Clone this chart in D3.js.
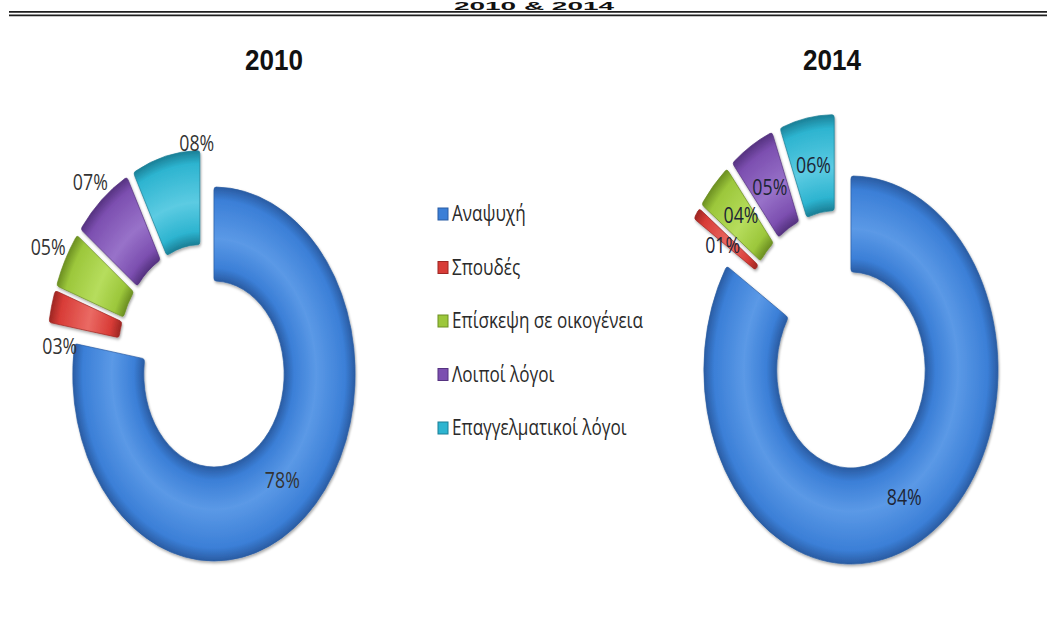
<!DOCTYPE html>
<html><head><meta charset="utf-8">
<script src="https://cdn.jsdelivr.net/npm/d3@7"></script>
<style>
html,body{margin:0;padding:0;background:#fff;}
svg{display:block;}
</style></head>
<body>
<svg id="chart" width="1047" height="623"></svg>
<script>
// ---------- DATA ----------
const categories = ["Αναψυχή", "Σπουδές", "Επίσκεψη σε οικογένεια", "Λοιποί λόγοι", "Επαγγελματικοί λόγοι"];
const years = ["2010", "2014"];
const values2010 = [77.6, 2.8, 4.9, 6.9, 7.8];
const values2014 = [84, 1, 4, 5, 6];
const headerTitle = "2010 & 2014";

// ---------- STYLE / LAYOUT ----------
const colors = ["#3b7fd7", "#d83c37", "#9cc73b", "#7c4fb0", "#2db4d0"];
const edgeColors = ["#2a5ca3", "#9e2723", "#6c8f22", "#553280", "#1b7f96"];
const lightColors = ["#5b99e6", "#ea6a64", "#b6dd5d", "#9872c9", "#5ccbe2"];
const font = "'Open Sans','Noto Sans',sans-serif";
const boldFont = "'Liberation Sans',Arial,sans-serif";

const svg = d3.select("#chart");
const defs = svg.append("defs");

const shadow = defs.append("filter").attr("id", "shadow")
  .attr("x", "-20%").attr("y", "-20%").attr("width", "140%").attr("height", "140%");
shadow.append("feDropShadow").attr("dx", 1.2).attr("dy", 1.8).attr("stdDeviation", 1.6)
  .attr("flood-color", "#000").attr("flood-opacity", 0.35);

// header (title above the double rule) and double rule
svg.append("text").attr("x", 534).attr("y", 9.5).attr("text-anchor", "middle")
  .attr("font-family", boldFont).attr("font-weight", "bold")
  .attr("font-size", 11).attr("fill", "#111")
  .attr("textLength", 160).attr("lengthAdjust", "spacingAndGlyphs")
  .text(headerTitle);
svg.append("line").attr("x1", 9).attr("x2", 1047).attr("y1", 11.9).attr("y2", 11.9)
  .attr("stroke", "#1e1e1e").attr("stroke-width", 1.8);
svg.append("line").attr("x1", 9).attr("x2", 1047).attr("y1", 15.3).attr("y2", 15.3)
  .attr("stroke", "#1e1e1e").attr("stroke-width", 1.8);

const charts = [
  { year: years[0], values: values2010, cx: 203.7, cy: 358, r: 187, inner: 93, sx: 0.755, explode: 21,
    titleX: 274, labelMode: "outside", labelAdjust: { 1: [27, 47], 4: [34, 2] } },
  { year: years[1], values: values2014, cx: 838.9, cy: 341.1, r: 194, inner: 98, sx: 0.758, explode: 33,
    titleX: 832, labelMode: "centroid", labelAdjust: { 1: [-4, 5], 2: [1, -3] } }
];

const pie = d3.pie().sort(null).value(d => d);
const fmt = v => String(Math.round(v)).padStart(2, "0") + "%";

function measure(txt, size, family, weight) {
  const t = svg.append("text").attr("font-family", family).attr("font-size", size)
    .attr("font-weight", weight || "normal").text(txt);
  const w = t.node().getComputedTextLength();
  t.remove();
  return w;
}
const pctSize = 21;
const pctScale = Math.min(1, 35 / measure("08%", pctSize, font));
const titleSize = 29;
const titleScale = Math.min(1, 58 / measure("2010", titleSize, boldFont, "bold"));

charts.forEach((c, ci) => {
  svg.append("text")
    .attr("transform", `translate(${c.titleX},70) scale(${titleScale},1)`)
    .attr("text-anchor", "middle")
    .attr("font-family", boldFont).attr("font-weight", "bold")
    .attr("font-size", titleSize).attr("fill", "#111").text(c.year);

  colors.forEach((col, i) => {
    const g = defs.append("radialGradient").attr("id", `grad${ci}_${i}`)
      .attr("gradientUnits", "userSpaceOnUse").attr("cx", 0).attr("cy", 0).attr("r", c.r);
    const f = c.inner / c.r;
    g.append("stop").attr("offset", f).attr("stop-color", edgeColors[i]);
    g.append("stop").attr("offset", f + 0.07).attr("stop-color", col);
    g.append("stop").attr("offset", f + (1 - f) * 0.45).attr("stop-color", lightColors[i]);
    g.append("stop").attr("offset", 0.93).attr("stop-color", col);
    g.append("stop").attr("offset", 1).attr("stop-color", edgeColors[i]);
  });

  const arcs = pie(c.values);
  const arc = d3.arc().innerRadius(c.inner).outerRadius(c.r).cornerRadius(3);
  const gRing = svg.append("g")
    .attr("transform", `translate(${c.cx},${c.cy}) scale(${c.sx},1)`)
    .attr("filter", "url(#shadow)");

  const off = d => {
    const a = (d.startAngle + d.endAngle) / 2;
    return [Math.sin(a) * c.explode, -Math.cos(a) * c.explode];
  };

  gRing.selectAll("path").data(arcs).join("path")
    .attr("d", arc)
    .attr("transform", d => `translate(${off(d)[0]},${off(d)[1]})`)
    .attr("fill", (d, i) => `url(#grad${ci}_${i})`)
    .attr("stroke", (d, i) => edgeColors[i])
    .attr("stroke-width", 0.8);

  const halfW = 24, halfH = 10;
  const labelPos = (d, i) => {
    const a = (d.startAngle + d.endAngle) / 2;
    let rr;
    if (c.labelMode === "outside" && d.data < 10) {
      rr = c.r + c.explode + Math.abs(Math.sin(a)) * halfW + Math.abs(Math.cos(a)) * halfH;
    } else {
      rr = (c.inner + c.r) / 2 + c.explode;
    }
    let px = c.cx + Math.sin(a) * rr * c.sx, py = c.cy - Math.cos(a) * rr;
    const adj = c.labelAdjust[i];
    if (adj) { px += adj[0]; py += adj[1]; }
    return [px, py];
  };

  svg.append("g").selectAll("text").data(arcs).join("text")
    .attr("transform", (d, i) => {
      const p = labelPos(d, i);
      return `translate(${p[0]},${p[1] + 7.5}) scale(${pctScale},1)`;
    })
    .attr("text-anchor", "middle")
    .attr("font-family", font).attr("font-size", pctSize)
    .attr("fill", ci === 0 ? "#333" : "#1d2535")
    .text(d => fmt(d.data));
});

// legend
const legendY = d3.scalePoint().domain(categories).range([214, 428]);
const legSize = 21;
const legScale = Math.min(1, 191 / measure(categories[2], legSize, font));
const lg = svg.append("g");
categories.forEach((cat, i) => {
  const y = legendY(cat);
  lg.append("rect").attr("x", 438).attr("y", y - 6).attr("width", 10).attr("height", 12)
    .attr("fill", colors[i]).attr("stroke", edgeColors[i]).attr("stroke-width", 1);
  lg.append("text").attr("transform", `translate(452,${y + 7}) scale(${legScale},1)`)
    .attr("font-family", font).attr("font-size", legSize).attr("fill", "#2a2a2a").text(cat);
});
</script>
</body></html>
